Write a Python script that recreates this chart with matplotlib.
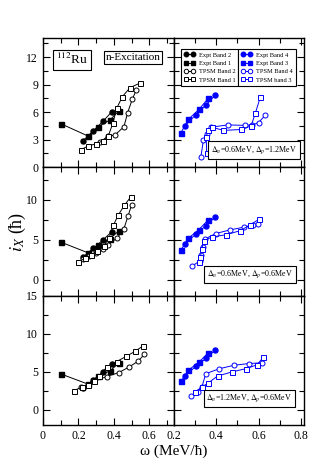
import matplotlib
matplotlib.use("Agg")
import matplotlib.pyplot as plt
from matplotlib.ticker import MultipleLocator, FixedLocator

plt.rcParams["font.family"] = ["Liberation Serif", "DejaVu Serif"]
plt.rcParams["mathtext.fontset"] = "stix"

# experimental data (same in every row)
expt1_x = [0.104, 0.255, 0.312, 0.380, 0.429]
expt1_y = [4.70, 3.38, 4.41, 5.17, 6.15]
expt2_x = [0.225, 0.283, 0.338, 0.387]
expt2_y = [2.84, 3.93, 4.98, 6.00]
expt3_x = [0.233, 0.268, 0.318, 0.363]
expt3_y = [3.75, 5.21, 6.29, 7.54]
expt4_x = [0.252, 0.303, 0.352, 0.396]
expt4_y = [4.50, 5.71, 6.79, 7.88]

# TPSM, row 1 (dn=0.6, dp=1.2)
t1_r1_x = [0.214, 0.255, 0.302, 0.340, 0.368, 0.395, 0.416, 0.448, 0.491, 0.546]
t1_r1_y = [1.90, 2.29, 2.55, 2.88, 3.35, 4.80, 6.40, 7.68, 8.66, 9.16]
t2_r1_x = [0.321, 0.365, 0.406, 0.457, 0.478, 0.504, 0.528]
t2_r1_y = [2.69, 3.35, 3.49, 4.40, 5.93, 7.38, 8.47]
t3_r1_x = [0.355, 0.352, 0.362, 0.380, 0.434, 0.518, 0.565, 0.585, 0.608]
t3_r1_y = [1.50, 3.30, 4.00, 4.35, 4.00, 4.10, 4.50, 5.90, 7.60]
t4_r1_x = [0.327, 0.339, 0.355, 0.375, 0.454, 0.536, 0.571, 0.600, 0.631]
t4_r1_y = [1.10, 2.90, 3.60, 4.35, 4.60, 4.55, 4.60, 4.85, 5.64]

# TPSM, row 2 (dn=0.6, dp=0.6)
t1_r2_x = [0.197, 0.235, 0.270, 0.305, 0.345, 0.372, 0.397, 0.425, 0.459, 0.497]
t1_r2_y = [2.20, 2.70, 3.10, 3.60, 4.30, 5.20, 6.80, 8.10, 9.30, 10.40]
t2_r2_x = [0.227, 0.262, 0.300, 0.337, 0.368, 0.419, 0.457, 0.480, 0.501]
t2_r2_y = [2.60, 3.00, 3.40, 3.90, 4.40, 5.25, 6.40, 7.95, 9.40]
t3_r2_x = [0.320, 0.325, 0.332, 0.340, 0.379, 0.446, 0.513, 0.559, 0.603]
t3_r2_y = [2.20, 2.90, 3.90, 4.90, 5.35, 5.65, 6.15, 6.85, 7.60]
t4_r2_x = [0.287, 0.323, 0.330, 0.336, 0.345, 0.398, 0.465, 0.533, 0.575, 0.597]
t4_r2_y = [1.75, 2.40, 3.10, 4.10, 5.10, 5.80, 6.25, 6.60, 6.90, 7.00]

# TPSM, row 3 (dn=1.2, dp=0.6)
t1_r3_x = [0.176, 0.220, 0.255, 0.290, 0.317, 0.359, 0.416, 0.470, 0.520, 0.567]
t1_r3_y = [2.54, 3.00, 3.30, 3.80, 4.40, 5.60, 6.36, 7.05, 7.70, 8.46]
t2_r3_x = [0.214, 0.289, 0.359, 0.429, 0.487, 0.537, 0.572]
t2_r3_y = [2.98, 3.75, 4.39, 4.91, 5.66, 6.40, 7.30]
t3_r3_x = [0.298, 0.331, 0.360, 0.406, 0.475, 0.541, 0.592, 0.623]
t3_r3_y = [2.30, 3.00, 3.50, 4.45, 5.00, 5.43, 5.92, 6.93]
t4_r3_x = [0.281, 0.312, 0.332, 0.350, 0.412, 0.485, 0.555, 0.618]
t4_r3_y = [1.88, 2.40, 3.00, 4.75, 5.40, 5.88, 6.10, 6.20]

rows = [
    dict(t1=(t1_r1_x, t1_r1_y), t2=(t2_r1_x, t2_r1_y), t3=(t3_r1_x, t3_r1_y), t4=(t4_r1_x, t4_r1_y),
         ylim=(0, 14.1), minor=1.5, yticks=[0, 3, 6, 9, 12],
         label=r"$\Delta_n$=0.6MeV, $\Delta_p$=1.2MeV", box=(0.615, 0.132)),
    dict(t1=(t1_r2_x, t1_r2_y), t2=(t2_r2_x, t2_r2_y), t3=(t3_r2_x, t3_r2_y), t4=(t4_r2_x, t4_r2_y),
         ylim=(-2, 14.1), minor=2.5, yticks=[0, 5, 10],
         label=r"$\Delta_n$=0.6MeV, $\Delta_p$=0.6MeV", box=(0.585, 0.167)),
    dict(t1=(t1_r3_x, t1_r3_y), t2=(t2_r3_x, t2_r3_y), t3=(t3_r3_x, t3_r3_y), t4=(t4_r3_x, t4_r3_y),
         ylim=(-2, 15), minor=2.5, yticks=[0, 5, 10, 15],
         label=r"$\Delta_n$=1.2MeV, $\Delta_p$=0.6MeV", box=(0.58, 0.205)),
]

fig = plt.figure(figsize=(3.29, 4.66), dpi=100)

L, M, R = 43 / 329, 174 / 329, 304 / 329
bottoms = [1 - 167 / 466, 1 - 296 / 466, 1 - 425 / 466]
h = 129 / 466

ms = 3.6
lw = 0.7
blue = "#0000ff"


def style(ax, row, left):
    ax.tick_params(which="both", direction="in", top=True, right=True,
                   labelsize=8.5, width=0.8)
    ax.tick_params(which="major", length=5)
    ax.tick_params(which="minor", length=3.5)
    for s in ax.spines.values():
        s.set_linewidth(1.0)
    ax.set_ylim(*row["ylim"])
    ax.yaxis.set_major_locator(FixedLocator(row["yticks"]))
    ax.yaxis.set_minor_locator(MultipleLocator(row["minor"]))
    if not left:
        ax.set_yticklabels([])


def half_legend(ax, handles, loc):
    # two boxed columns sharing the middle edge
    leg = ax.legend(handles, [hd.get_label() for hd in handles],
                    loc=loc, bbox_to_anchor=(0.495, 0.915), borderaxespad=0.0,
                    fontsize=4.6, numpoints=2, handlelength=1.7,
                    handletextpad=0.6, labelspacing=0.45, borderpad=0.5,
                    fancybox=False, framealpha=1, edgecolor="black", markerscale=0.9)
    leg.get_frame().set_linewidth(0.8)
    return leg


for i, row in enumerate(rows):
    axl = fig.add_axes([L, bottoms[i], M - L, h])
    axr = fig.add_axes([M, bottoms[i], R - M, h])

    # left: n-excitation bands 1/2
    e2, = axl.plot(expt2_x, expt2_y, "-o", color="black", ms=ms, lw=lw, label="Expt Band 2")
    e1, = axl.plot(expt1_x, expt1_y, "-s", color="black", ms=ms, lw=lw, label="Expt Band 1")
    tp2, = axl.plot(*row["t2"], "-o", color="black", mfc="white", ms=ms, lw=lw, mew=0.7, label="TPSM Band 2")
    tp1, = axl.plot(*row["t1"], "-s", color="black", mfc="white", ms=ms, lw=lw, mew=0.7, label="TPSM Band 1")

    # right: bands 3/4
    e4, = axr.plot(expt4_x, expt4_y, "-o", color=blue, ms=ms, lw=lw, label="Expt Band 4")
    e3, = axr.plot(expt3_x, expt3_y, "-s", color=blue, ms=ms, lw=lw, label="Expt Band 3")
    tp4, = axr.plot(*row["t4"], "-o", color=blue, mfc="white", ms=ms, lw=lw, mew=0.7, label="TPSM Band 4")
    tp3, = axr.plot(*row["t3"], "-s", color=blue, mfc="white", ms=ms, lw=lw, mew=0.7, label="TPSM band 3")

    axl.set_xlim(0, 0.74)
    axl.xaxis.set_major_locator(FixedLocator([0, 0.2, 0.4, 0.6]))
    axl.xaxis.set_minor_locator(FixedLocator([0.1, 0.3, 0.5, 0.7]))
    axr.set_xlim(0.2, 0.815)
    axr.xaxis.set_major_locator(FixedLocator([0.2, 0.4, 0.6, 0.8]))
    axr.xaxis.set_minor_locator(FixedLocator([0.3, 0.5, 0.7]))

    style(axl, row, True)
    style(axr, row, False)

    if i < 2:
        axl.set_xticklabels([])
        axr.set_xticklabels([])
    else:
        axl.set_xticklabels(["0", "0.2", "0.4", "0.6"])
        axr.set_xticklabels(["0.2", "0.4", "0.6", "0.8"])

    axr.text(row["box"][0], row["box"][1], row["label"], transform=axr.transAxes,
             ha="center", va="center", fontsize=5.8,
             bbox=dict(boxstyle="square,pad=0.35", fc="white", ec="black", lw=0.8))

    if i == 0:
        axl.text(0.1, 0.83, r"$^{112}$Ru", transform=axl.transAxes, ha="left", va="center",
                 fontsize=9.5,
                 bbox=dict(boxstyle="square,pad=0.2", fc="white", ec="black", lw=0.8))
        axl.text(0.69, 0.85, "n-Excitation", transform=axl.transAxes, ha="center", va="center",
                 fontsize=8,
                 bbox=dict(boxstyle="square,pad=0.15", fc="white", ec="black", lw=0.8))
        leg1 = half_legend(axr, [e2, e1, tp2, tp1], "upper right")
        axr.add_artist(leg1)
        half_legend(axr, [e4, e3, tp4, tp3], "upper left")

fig.text(173.5 / 329, 1 - 451 / 466, "ω (MeV/ħ)", ha="center", va="center", fontsize=11)
fig.text(17 / 329, 1 - 232 / 466, r"$i_X$ (ħ)", ha="center", va="center", fontsize=13, rotation=90)

fig.savefig("out.png", dpi=100)
